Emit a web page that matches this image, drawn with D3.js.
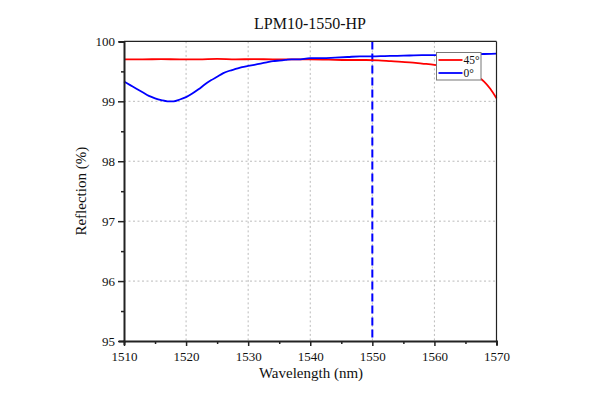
<!DOCTYPE html>
<html>
<head>
<meta charset="utf-8">
<script src="https://cdn.jsdelivr.net/npm/d3@7"></script>
<style>
  body { margin: 0; background: #fff; }
  text { font-family: "Liberation Serif", "Times New Roman", serif; fill: #111; }
</style>
</head>
<body>
<div id="chart"></div>
<script>
// Readings from the reference plot
var wl0 = [1510, 1511, 1512, 1513, 1514, 1515, 1516, 1517, 1518, 1519, 1520,
           1521, 1522, 1523, 1524, 1525, 1526, 1527, 1528, 1529, 1530, 1531,
           1532, 1533, 1534, 1535, 1536, 1537, 1538, 1540, 1542, 1544, 1546,
           1548, 1550, 1552, 1554, 1556, 1558, 1560, 1562, 1564, 1566, 1568, 1570];
var refl0 = [99.33, 99.27, 99.21, 99.15, 99.09, 99.05, 99.02, 99.00, 99.00, 99.03, 99.07,
             99.13, 99.20, 99.28, 99.35, 99.41, 99.47, 99.51, 99.54, 99.57, 99.59, 99.61,
             99.63, 99.65, 99.67, 99.68, 99.69, 99.70, 99.70, 99.72, 99.72, 99.73, 99.74,
             99.75, 99.75, 99.755, 99.76, 99.765, 99.77, 99.77, 99.775, 99.78, 99.785, 99.79, 99.795];

var wl45 = [1510, 1513, 1516, 1519, 1522, 1525, 1528, 1531, 1534, 1537, 1540, 1543,
            1546, 1549, 1551, 1553, 1556, 1558, 1560, 1562, 1564, 1566, 1567, 1568, 1569, 1570];
var refl45 = [99.70, 99.70, 99.705, 99.70, 99.70, 99.71, 99.70, 99.705, 99.70, 99.70, 99.70, 99.695,
              99.69, 99.69, 99.685, 99.67, 99.65, 99.63, 99.61, 99.58, 99.54, 99.47, 99.41, 99.33, 99.21, 99.05];

var xTicks = [1510, 1520, 1530, 1540, 1550, 1560, 1570];
var yTicks = [95, 96, 97, 98, 99, 100];
var markerWl = 1550;

var series = [
  { name: "45°", color: "#ff0000", x: wl45, y: refl45 },
  { name: "0°", color: "#0000ff", x: wl0, y: refl0 }
];

const svg = d3.select("#chart").append("svg")
  .attr("width", 600)
  .attr("height", 400);

const plotL = 124, plotR = 496.5, plotT = 41.4, plotB = 341;

const xScale = d3.scaleLinear().domain([1510, 1570]).range([plotL, plotR]);
const yScale = d3.scaleLinear().domain([95, 100]).range([plotB, plotT]);

// grid
svg.append("g").selectAll("line")
  .data(xTicks.slice(1, -1))
  .join("line")
  .attr("x1", d => xScale(d)).attr("x2", d => xScale(d))
  .attr("y1", plotT).attr("y2", plotB)
  .attr("stroke", "#bbb").attr("stroke-width", 1).attr("stroke-dasharray", "2,2.5");
svg.append("g").selectAll("line")
  .data(yTicks.slice(1, -1))
  .join("line")
  .attr("x1", plotL).attr("x2", plotR)
  .attr("y1", d => yScale(d)).attr("y2", d => yScale(d))
  .attr("stroke", "#bbb").attr("stroke-width", 1).attr("stroke-dasharray", "2,2.5");

// 1550 marker
svg.append("line")
  .attr("x1", xScale(markerWl)).attr("x2", xScale(markerWl))
  .attr("y1", plotT).attr("y2", plotB)
  .attr("stroke", "#0000ff").attr("stroke-width", 2).attr("stroke-dasharray", "8,4");

// curves
const line = d3.line()
  .x(d => xScale(d[0]))
  .y(d => yScale(d[1]))
  .curve(d3.curveMonotoneX);

series.forEach(s => {
  svg.append("path")
    .datum(d3.zip(s.x, s.y))
    .attr("fill", "none")
    .attr("stroke", s.color)
    .attr("stroke-width", 1.8)
    .attr("d", line);
});

// frame
svg.append("line").attr("x1", plotL).attr("x2", plotR).attr("y1", plotT).attr("y2", plotT)
  .attr("stroke", "#222").attr("stroke-width", 1.2);
svg.append("line").attr("x1", plotR).attr("x2", plotR).attr("y1", plotT).attr("y2", plotB)
  .attr("stroke", "#222").attr("stroke-width", 1.2);

// axes
const xAxis = svg.append("g")
  .attr("transform", `translate(0,${plotB})`)
  .call(d3.axisBottom(xScale).tickValues(d3.range(1510, 1571, 5)).tickSize(4)
    .tickFormat(d => xTicks.includes(d) ? d : ""));
xAxis.attr("font-family", null);
xAxis.select(".domain").attr("stroke", "#222").attr("stroke-width", 2);
xAxis.selectAll(".tick line").attr("stroke", "#222").attr("stroke-width", 1.5)
  .attr("y2", d => xTicks.includes(d) ? 5 : 3);
xAxis.selectAll(".tick text").attr("font-size", 13).attr("dy", 0).attr("y", 19.5);

const yAxis = svg.append("g")
  .attr("transform", `translate(${plotL},0)`)
  .call(d3.axisLeft(yScale).tickValues(d3.range(95, 100.01, 0.5)).tickSize(5)
    .tickFormat(d => yTicks.includes(d) ? d : ""));
yAxis.attr("font-family", null);
yAxis.select(".domain").attr("stroke", "#222").attr("stroke-width", 2);
yAxis.selectAll(".tick line").attr("stroke", "#222").attr("stroke-width", 1.5)
  .attr("x2", d => yTicks.includes(d) ? -6 : -3);
yAxis.selectAll(".tick text").attr("font-size", 13).attr("x", -9);

// legend
const lg = svg.append("g").attr("transform", "translate(436.5,52.5)");
lg.append("rect").attr("width", 44.5).attr("height", 27.5)
  .attr("fill", "#fff").attr("stroke", "#777").attr("stroke-width", 1);
series.forEach((s, i) => {
  const yy = 7.5 + i * 13;
  lg.append("line").attr("x1", 2).attr("x2", 26).attr("y1", yy).attr("y2", yy)
    .attr("stroke", s.color).attr("stroke-width", 1.8);
  lg.append("text").attr("x", 27).attr("y", yy + 4)
    .attr("font-size", 11.5).text(s.name);
});

// titles
svg.append("text").attr("x", 310).attr("y", 29).attr("text-anchor", "middle")
  .attr("font-size", 16).text("LPM10-1550-HP");
svg.append("text").attr("x", 311).attr("y", 378).attr("text-anchor", "middle")
  .attr("font-size", 15).text("Wavelength (nm)");
svg.append("text").attr("transform", `translate(86,${(plotT + plotB) / 2}) rotate(-90)`)
  .attr("text-anchor", "middle").attr("font-size", 15).text("Reflection (%)");
</script>
</body>
</html>
